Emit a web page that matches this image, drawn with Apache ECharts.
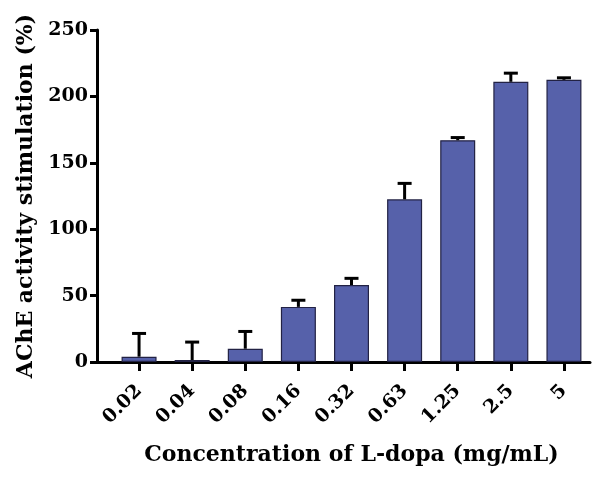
<!DOCTYPE html>
<html>
<head>
<meta charset="utf-8">
<script src="https://cdn.jsdelivr.net/npm/echarts@6/dist/echarts.min.js"></script>
<style>html,body{margin:0;padding:0;background:#fff}#c{width:595px;height:480px}</style>
</head>
<body>
<div id="c"></div>
<script>
const categories = ['0.02','0.04','0.08','0.16','0.32','0.63','1.25','2.5','5'];
const means = [4, 1.5, 10, 41.5, 58, 122.5, 167, 211, 212.5];
const errors = [17.5, 13.5, 13, 5, 5, 12, 2, 6.5, 1.5];
const yTicks = [0, 50, 100, 150, 200, 250];

const FONT = '"DejaVu Serif", "Liberation Serif", serif';
const chart = echarts.init(document.getElementById('c'), null, {renderer: 'canvas'});

const errData = categories.map((c, i) => [i, means[i], means[i] + errors[i]]);

chart.setOption({
  animation: false,
  backgroundColor: '#fff',
  grid: [
    {left: 97, right: 5, top: 30, bottom: 118},
    {left: 112.5, right: 4.5, top: 30, bottom: 118}
  ],
  xAxis: [
    {
      type: 'value', gridIndex: 0, min: 0, max: 1,
      axisLine: {show: true, lineStyle: {color: '#000', width: 3}},
      axisTick: {show: false}, axisLabel: {show: false}, splitLine: {show: false}
    },
    {
      type: 'category', gridIndex: 1, data: categories,
      axisLine: {show: false},
      axisTick: {show: true, alignWithLabel: true, length: 9, lineStyle: {color: '#000', width: 3}},
      axisLabel: {rotate: 45, margin: 26, color: '#000', fontFamily: FONT, fontWeight: 'bold', fontSize: 19},
      name: 'Concentration of L-dopa (mg/mL)',
      nameLocation: 'middle', nameGap: 82,
      nameTextStyle: {color: '#000', fontFamily: FONT, fontWeight: 'bold', fontSize: 22}
    }
  ],
  yAxis: [
    {
      type: 'value', gridIndex: 0, min: yTicks[0], max: yTicks[yTicks.length - 1], interval: 50,
      axisLine: {show: true, lineStyle: {color: '#000', width: 3}},
      axisTick: {show: true, length: 7, lineStyle: {color: '#000', width: 3}},
      axisLabel: {margin: 9, color: '#000', fontFamily: FONT, fontWeight: 'bold', fontSize: 19},
      splitLine: {show: false},
      name: 'AChE activity stimulation (%)',
      nameLocation: 'middle', nameGap: 54, nameRotate: 90,
      nameTextStyle: {color: '#000', fontFamily: FONT, fontWeight: 'bold', fontSize: 22}
    },
    {
      type: 'value', gridIndex: 1, min: yTicks[0], max: yTicks[yTicks.length - 1], interval: 50,
      show: false
    }
  ],
  series: [
    {
      type: 'bar', xAxisIndex: 1, yAxisIndex: 1, data: means, barWidth: 35,
      itemStyle: {color: '#5661aa', borderColor: '#222244', borderWidth: 1.2},
      z: 2
    },
    {
      type: 'custom', xAxisIndex: 1, yAxisIndex: 1, data: errData, z: 3,
      renderItem: function (params, api) {
        const x = api.value(0);
        const p0 = api.coord([x, api.value(1)]);
        const p1 = api.coord([x, api.value(2)]);
        const hw = 7;
        const st = {stroke: '#000', lineWidth: 3};
        return {
          type: 'group',
          children: [
            {type: 'line', shape: {x1: p0[0], y1: p0[1], x2: p1[0], y2: p1[1]}, style: st},
            {type: 'line', shape: {x1: p1[0] - hw, y1: p1[1], x2: p1[0] + hw, y2: p1[1]}, style: st}
          ]
        };
      }
    }
  ]
});
</script>
</body>
</html>
